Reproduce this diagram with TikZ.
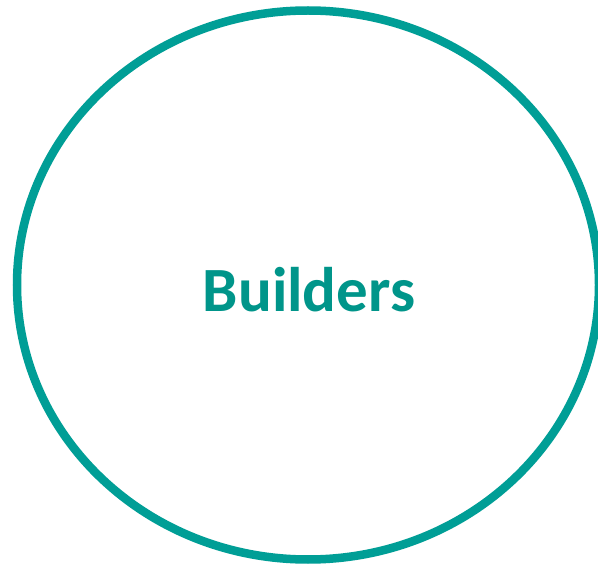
\documentclass[tikz,border=0pt]{standalone}
\usepackage{fontspec}
\setmainfont{Carlito}
\definecolor{ring}{HTML}{009E96}
\definecolor{txt}{HTML}{00958A}
\begin{document}
\begin{tikzpicture}[x=1pt,y=-1pt]
\useasboundingbox[fill=white] (0,0) rectangle (598,567);
\draw[ring,line width=8.5pt] (308,285) ellipse [x radius=291, y radius=274.5];
\node[txt,font=\bfseries\fontsize{63}{63}\selectfont,anchor=base] (label) at (309,312) {Builders};
\end{tikzpicture}
\end{document}
